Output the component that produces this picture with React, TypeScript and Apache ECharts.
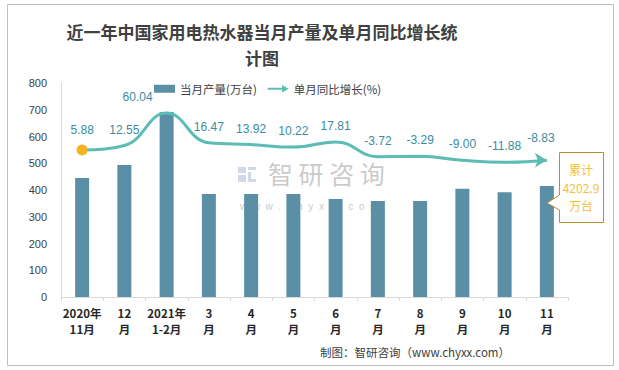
import React, { useEffect, useRef } from "react";
import * as echarts from "echarts";

const categories = ["2020年\n11月", "12\n月", "2021年\n1-2月", "3\n月", "4\n月", "5\n月", "6\n月", "7\n月", "8\n月", "9\n月", "10\n月", "11\n月"];
const production = [445, 493, 692, 385, 385, 385, 366, 359, 359, 405, 392, 415];
const growth = [5.88, 12.55, 60.04, 16.47, 13.92, 10.22, 17.81, -3.72, -3.29, -9.0, -11.88, -8.83];
const yTicks = { min: 0, max: 800, interval: 100 };

const BAR_NAME = "当月产量(万台)";
const LINE_NAME = "单月同比增长(%)";
const TEAL = "#5BBDB3";
const BAR = "#5B8FA6";

export default function App() {
  const ref = useRef<HTMLDivElement>(null);
  useEffect(() => {
    if (!ref.current) return;
    const chart = echarts.init(ref.current, null, { renderer: "svg" });
    const peak = growth.indexOf(Math.max(...growth));
    const lineData = growth.map((v, i) => {
      if (i === 0) return { value: v, symbol: "circle", symbolSize: 11, itemStyle: { color: "#F2B324" } };
      if (i === growth.length - 1) return { value: v, symbol: "arrow", symbolSize: [11, 12], symbolRotate: -90, itemStyle: { color: TEAL } };
      const item: any = { value: v, symbol: "circle", symbolSize: 2, itemStyle: { color: TEAL } };
      if (i === peak) item.label = { offset: [-29, 0] };
      return item;
    });
    chart.setOption({
      animation: false,
      backgroundColor: "#fff",
      textStyle: { fontFamily: "'Liberation Sans', 'Noto Sans CJK SC', sans-serif" },
      title: {
        text: "近一年中国家用电热水器当月产量及单月同比增长统\n计图",
        left: 257,
        textAlign: "center",
        top: 13,
        textStyle: { fontSize: 17, fontWeight: "bold", color: "#404040", lineHeight: 26, fontFamily: "'Noto Sans CJK SC', sans-serif" },
      },
      legend: {
        left: 149,
        top: 78,
        itemGap: 11,
        itemWidth: 21,
        itemHeight: 8,
        textStyle: { fontSize: 11.5, color: "#404040", fontFamily: "'Noto Sans CJK SC', sans-serif" },
        data: [
          { name: BAR_NAME, icon: "rect" },
          { name: LINE_NAME, icon: "path://M0,3 L15,3 L15,0 L22,4 L15,8 L15,5 L0,5 Z", itemStyle: { color: TEAL } },
        ],
      },
      grid: { left: 61, right: 51, top: 83, bottom: 73 },
      xAxis: {
        type: "category",
        data: categories,
        axisLine: { lineStyle: { color: "#D9D9D9" } },
        axisTick: { show: true, length: 4, lineStyle: { color: "#D9D9D9" } },
        axisLabel: { fontSize: 11.5, fontWeight: "bold", color: "#262626", lineHeight: 16, margin: 8, interval: 0, fontFamily: "'Noto Sans CJK SC', sans-serif" },
      },
      yAxis: [
        {
          type: "value",
          min: yTicks.min,
          max: yTicks.max,
          interval: yTicks.interval,
          axisLine: { show: true, lineStyle: { color: "#D9D9D9" } },
          axisTick: { show: false },
          splitLine: { show: false },
          axisLabel: { fontSize: 11, color: "#404040", margin: 14 },
        },
        { type: "value", show: false, min: -209, max: 104, splitLine: { show: false } },
      ],
      series: [
        {
          name: BAR_NAME,
          type: "bar",
          data: production,
          barWidth: 14,
          itemStyle: { color: BAR },
        },
        {
          name: LINE_NAME,
          type: "line",
          yAxisIndex: 1,
          data: lineData,
          smooth: 0.45,
          showSymbol: true,
          showAllSymbol: true,
          lineStyle: { color: TEAL, width: 3 },
          itemStyle: { color: TEAL },
          label: {
            show: true,
            position: "top",
            distance: 9,
            fontSize: 12,
            color: "#3A8C9E",
            formatter: (p: any) => Number(p.value).toFixed(2),
          },
        },
      ],
      graphic: [
        { type: "rect", shape: { x: 7.5, y: 4.5, width: 606, height: 361 }, style: { fill: "none", stroke: "#BFBFBF", lineWidth: 1 }, silent: true },
        // watermark
        { type: "rect", shape: { x: 238, y: 167, width: 8, height: 6 }, style: { fill: "rgba(150,170,205,0.45)" }, silent: true },
        { type: "rect", shape: { x: 248, y: 167, width: 8, height: 3 }, style: { fill: "rgba(150,170,205,0.45)" }, silent: true },
        { type: "rect", shape: { x: 238, y: 175, width: 8, height: 7 }, style: { fill: "rgba(150,170,205,0.45)" }, silent: true },
        { type: "rect", shape: { x: 248, y: 172, width: 3, height: 10 }, style: { fill: "rgba(150,170,205,0.45)" }, silent: true },
        { type: "rect", shape: { x: 251, y: 179, width: 5, height: 3 }, style: { fill: "rgba(150,170,205,0.45)" }, silent: true },
        { type: "text", x: 268, y: 160, style: { text: "智 研 咨 询", fontSize: 25, fill: "rgba(150,150,150,0.5)", fontFamily: "'Noto Sans CJK SC', sans-serif" }, silent: true },
        { type: "text", x: 240, y: 201, style: { text: "w  w  w  .  c  h  y  x  x  .  c  o  m", fontSize: 10, fill: "rgba(150,150,150,0.55)", fontFamily: "'Liberation Sans', sans-serif" }, silent: true },
        // callout
        {
          type: "polygon",
          shape: { points: [[559.5, 152.5], [603.5, 152.5], [603.5, 222.5], [559.5, 222.5], [559.5, 210], [547, 203], [559.5, 195]] },
          style: { fill: "#fff", stroke: "#B8912F", lineWidth: 1 },
          z: 10,
        },
        {
          type: "text",
          x: 581,
          y: 187,
          z: 11,
          style: { text: "累计\n4202.9\n万台", fontSize: 12, fill: "#F5BE3C", align: "center", verticalAlign: "middle", lineHeight: 18, fontFamily: "'Noto Sans CJK SC', sans-serif" },
        },
        {
          type: "text",
          right: 109,
          top: 346,
          style: { text: "制图：智研咨询（www.chyxx.com）", fontSize: 11.5, fill: "#404040", fontFamily: "'Noto Sans CJK SC', sans-serif" },
        },
      ],
    });
    return () => chart.dispose();
  }, []);
  return <div ref={ref} style={{ position: "absolute", left: 0, top: 0, width: 619, height: 370 }} />;
}
